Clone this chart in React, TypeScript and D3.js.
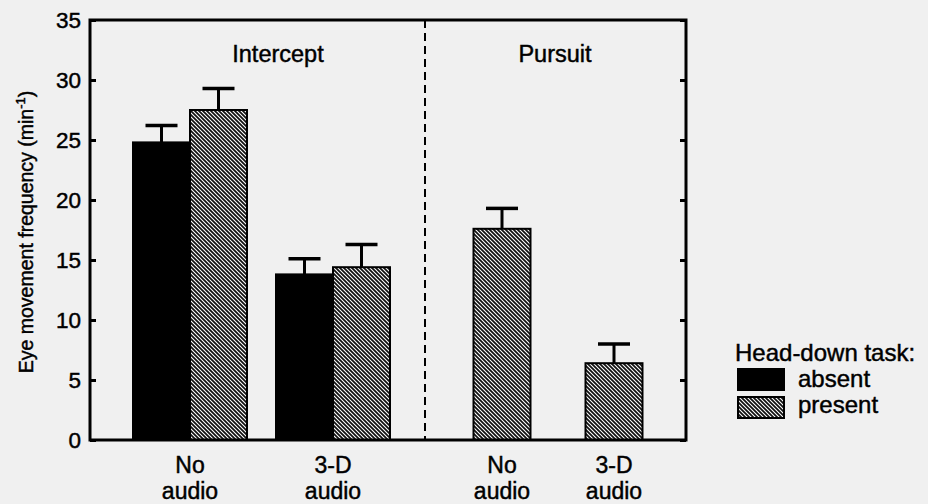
import { useRef, useEffect } from "react";
import * as d3 from "d3";

// panels and conditions
const panels = ["Intercept", "Pursuit"];
const conditions = ["No audio", "3-D audio"];

// Head-down task absent (Intercept only)
const absentMean = [24.8, 13.8];
const absentErr = [1.4, 1.3];
// Head-down task present
const presentInterceptMean = [27.5, 14.4];
const presentInterceptErr = [1.8, 1.9];
const presentPursuitMean = [17.6, 6.4];
const presentPursuitErr = [1.7, 1.6];

const yTicks = [0, 5, 10, 15, 20, 25, 30, 35];
const legendItems = ["absent", "present"];

const App = () => {
  const svgRef = useRef(null);

  useEffect(() => {
    const svg = d3.select(svgRef.current);
    svg.selectAll("*").remove();

    const font = "'Liberation Sans', Arial, sans-serif";
    const left = 90, right = 686, top = 20, bottom = 440;
    const divider = 425;
    const barW = 57;

    // text helper: scanned look is a bit heavier than plain regular
    const txt = (sel: any, size: number) =>
      sel.attr("font-family", font)
        .attr("font-size", size)
        .attr("fill", "#000")
        .attr("stroke", "#000")
        .attr("stroke-width", 0.45);

    // hatch pattern
    const defs = svg.append("defs");
    const pat = defs.append("pattern")
      .attr("id", "hatch")
      .attr("patternUnits", "userSpaceOnUse")
      .attr("width", 4)
      .attr("height", 4);
    pat.append("rect").attr("width", 4).attr("height", 4).attr("fill", "#fff");
    pat.append("path")
      .attr("d", "M-1,-1 L5,5 M-1,3 L1,5 M3,-1 L5,1")
      .attr("stroke", "#111")
      .attr("stroke-width", 1.75);

    const y = d3.scaleLinear().domain([0, 35]).range([bottom, top]);
    const xIntercept = d3.scalePoint<string>().domain(conditions).range([190, 333]);
    const xPursuit = d3.scalePoint<string>().domain(conditions).range([502, 614]);

    const drawBar = (x0: number, v: number, e: number, fill: string) => {
      svg.append("rect")
        .attr("x", x0)
        .attr("y", y(v))
        .attr("width", barW)
        .attr("height", y(0) - y(v))
        .attr("fill", fill)
        .attr("stroke", "#000")
        .attr("stroke-width", 2);
      const cx = x0 + barW / 2;
      svg.append("line")
        .attr("x1", cx).attr("x2", cx)
        .attr("y1", y(v)).attr("y2", y(v + e))
        .attr("stroke", "#000").attr("stroke-width", 3);
      svg.append("line")
        .attr("x1", cx - 16).attr("x2", cx + 16)
        .attr("y1", y(v + e)).attr("y2", y(v + e))
        .attr("stroke", "#000").attr("stroke-width", 3.5);
    };

    conditions.forEach((c, i) => {
      const cx = xIntercept(c)!;
      drawBar(cx - barW, absentMean[i], absentErr[i], "#000");
      drawBar(cx, presentInterceptMean[i], presentInterceptErr[i], "url(#hatch)");
      const px = xPursuit(c)!;
      drawBar(px - barW / 2, presentPursuitMean[i], presentPursuitErr[i], "url(#hatch)");
    });

    // divider
    svg.append("line")
      .attr("x1", divider).attr("x2", divider)
      .attr("y1", top).attr("y2", bottom)
      .attr("stroke", "#000").attr("stroke-width", 2)
      .attr("stroke-dasharray", "8,5");

    // frame
    svg.append("rect")
      .attr("x", left).attr("y", top)
      .attr("width", right - left).attr("height", bottom - top)
      .attr("fill", "none").attr("stroke", "#000").attr("stroke-width", 3);

    // left axis, inward ticks
    const gl = svg.append("g")
      .attr("transform", `translate(${left},0)`)
      .call(d3.axisRight(y).tickValues(yTicks).tickSize(6).tickFormat(() => ""));
    gl.select(".domain").remove();
    gl.selectAll("line").attr("stroke-width", 3);

    const gr = svg.append("g")
      .attr("transform", `translate(${right},0)`)
      .call(d3.axisLeft(y).tickValues(yTicks).tickSize(6).tickFormat(() => ""));
    gr.select(".domain").remove();
    gr.selectAll("line").attr("stroke-width", 3);

    txt(svg.append("g")
      .selectAll("text")
      .data(yTicks)
      .join("text")
      .attr("x", left - 9)
      .attr("y", d => y(d))
      .attr("dy", "0.36em")
      .attr("text-anchor", "end"), 22.5)
      .text(d => d);

    // y label
    const yl = txt(svg.append("text")
      .attr("transform", `translate(33,${232}) rotate(-90)`)
      .attr("text-anchor", "middle"), 19.5);
    yl.append("tspan").text("Eye movement frequency (min");
    yl.append("tspan").attr("dy", -8).attr("font-size", 13).text("-1");
    yl.append("tspan").attr("dy", 8).text(")");

    // panel titles
    txt(svg.append("text")
      .attr("x", 278).attr("y", 62)
      .attr("text-anchor", "middle"), 23.5)
      .text(panels[0]);
    txt(svg.append("text")
      .attr("x", 555).attr("y", 62)
      .attr("text-anchor", "middle"), 23.5)
      .text(panels[1]);

    // x labels
    const xLabel = (cx: number, c: string) => {
      const [a, b] = c === "No audio" ? ["No", "audio"] : ["3-D", "audio"];
      const t = txt(svg.append("text").attr("text-anchor", "middle"), 23);
      t.append("tspan").attr("x", cx).attr("y", 473).text(a);
      t.append("tspan").attr("x", cx).attr("y", 499).text(b);
    };
    conditions.forEach(c => {
      xLabel(xIntercept(c)!, c);
      xLabel(xPursuit(c)!, c);
    });

    // legend
    txt(svg.append("text")
      .attr("x", 735).attr("y", 361), 24)
      .text("Head-down task:");
    legendItems.forEach((d, i) => {
      svg.append("rect")
        .attr("x", 738).attr("y", 369 + i * 28)
        .attr("width", 46).attr("height", 21)
        .attr("fill", i === 0 ? "#000" : "url(#hatch)")
        .attr("stroke", "#000").attr("stroke-width", 2);
      txt(svg.append("text")
        .attr("x", 798).attr("y", 387 + i * 26), 24)
        .text(d);
    });
  }, []);

  return (
    <div style={{ position: "absolute", left: 0, top: 0, background: "#f0f0f0" }}>
      <svg ref={svgRef} width={928} height={504} style={{ display: "block" }}></svg>
    </div>
  );
};

export default App;
